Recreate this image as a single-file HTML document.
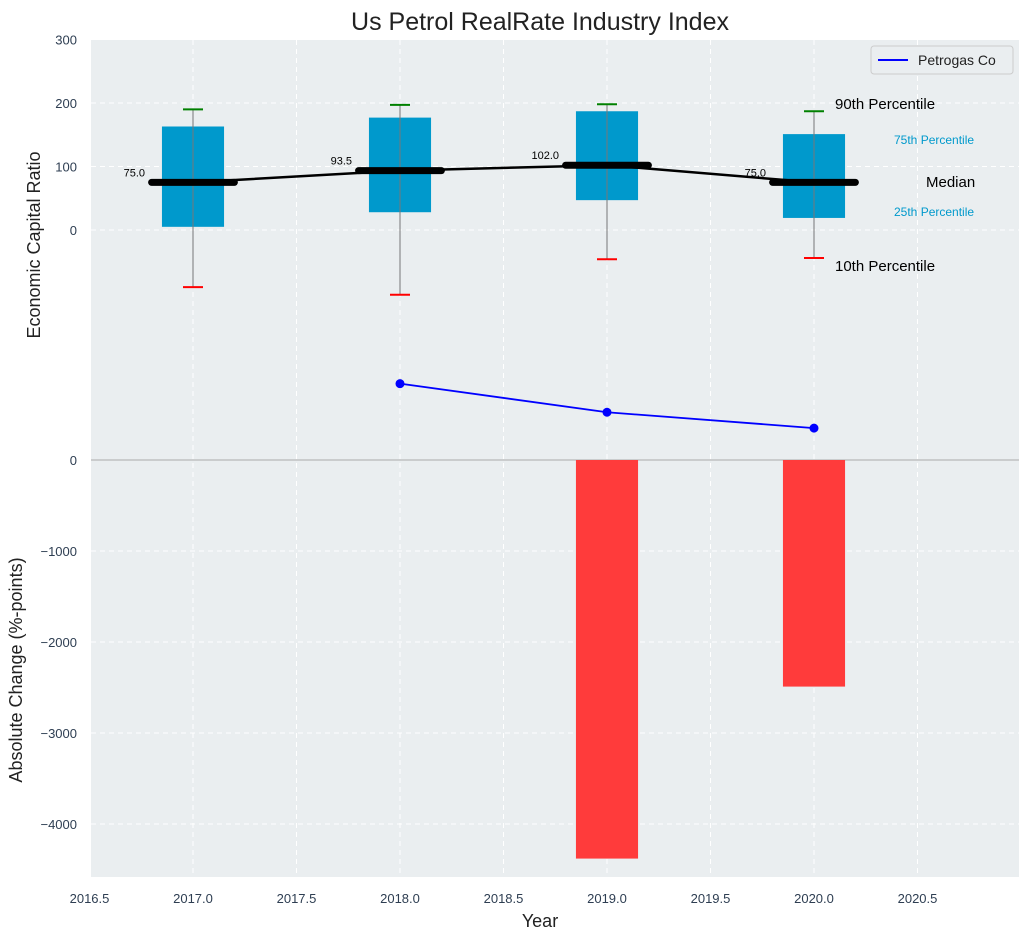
<!DOCTYPE html>
<html><head><meta charset="utf-8"><style>
body{margin:0;background:#fff;}
svg text{font-family:"Liberation Sans",sans-serif;}
</style></head><body>
<svg id="chart" width="1029" height="940" xmlns="http://www.w3.org/2000/svg">
<rect x="91" y="40" width="928" height="837" fill="#eaeef0"/>
<g id="grid"></g>
<g id="marks"></g>
<text x="540" y="30" font-size="25" text-anchor="middle" fill="#222">Us Petrol RealRate Industry Index</text>
<text x="540" y="927" font-size="18" text-anchor="middle" fill="#222">Year</text>
<text transform="translate(40,245) rotate(-90)" font-size="18" text-anchor="middle" fill="#222">Economic Capital Ratio</text>
<text transform="translate(22,670) rotate(-90)" font-size="18" text-anchor="middle" fill="#222">Absolute Change (%-points)</text>
<g>
<rect x="871" y="46" width="142" height="28" rx="3" fill="#eaeef0" stroke="#ccc"/>
<line x1="878" y1="60" x2="908" y2="60" stroke="#0000ff" stroke-width="2"/>
<text x="918" y="65" font-size="14" fill="#222">Petrogas Co</text>
</g>
<text x="835" y="109" font-size="15" fill="#000">90th Percentile</text>
<text x="894" y="144" font-size="12" fill="#0099cc">75th Percentile</text>
<text x="926" y="187" font-size="15" fill="#000">Median</text>
<text x="894" y="216" font-size="12" fill="#0099cc">25th Percentile</text>
<text x="835" y="271" font-size="15" fill="#000">10th Percentile</text>
</svg>
<script>
const years=[2017,2018,2019,2020];
const p10=[-90,-102,-46,-44];
const p25=[5,28,47,19];
const median=[75,93.5,102,75];
const p75=[163,177,187,151];
const p90=[190,197,198,187];
const petroYears=[2018,2019,2020];
const petroVals=[-242,-287,-312];
const changeYears=[2019,2020];
const changeVals=[-4380,-2490];
const xTicks=[2016.5,2017,2017.5,2018,2018.5,2019,2019.5,2020,2020.5];
const yTopTicks=[0,100,200,300];
const yBotTicks=[0,-1000,-2000,-3000,-4000];

const NS="http://www.w3.org/2000/svg";
const X=v=>193+(v-2017)*207;
const YT=v=>230-v*0.635;
const YB=v=>460-v*0.091;
const grid=document.getElementById('grid'), marks=document.getElementById('marks');
function mk(tag,attrs,parent){const e=document.createElementNS(NS,tag);for(const k in attrs)e.setAttribute(k,attrs[k]);parent.appendChild(e);return e;}
const TC='#2e3e52';
xTicks.forEach(t=>{
  const l=mk('line',{x1:X(t),x2:X(t),y1:40,y2:877,stroke:'#fff','stroke-dasharray':'5,4','stroke-width':1},grid);
  
  
  const tx=mk('text',{x:X(t),y:903,'font-size':13,'text-anchor':'middle',fill:TC},grid);
  tx.textContent=t.toFixed(1);
  
  
});
yTopTicks.forEach(t=>{
  const l=mk('line',{x1:91,x2:1019,y1:YT(t),y2:YT(t),stroke:'#fff','stroke-dasharray':'5,4'},grid);
  
  
  const tx=mk('text',{x:77,y:YT(t)+5,'font-size':13,'text-anchor':'end',fill:TC},grid);
  tx.textContent=t;
  
  
});
yBotTicks.forEach(t=>{
  const l=mk('line',{x1:91,x2:1019,y1:YB(t),y2:YB(t),stroke:t===0?'#aaa':'#fff','stroke-dasharray':t===0?'none':'5,4'},grid);
  
  
  const tx=mk('text',{x:77,y:YB(t)+5,'font-size':13,'text-anchor':'end',fill:TC},grid);
  tx.textContent=t===0?'0':'\u2212'+Math.abs(t);
  
  
});
changeYears.forEach((y,i)=>{
  const r=mk('rect',{x:X(y-0.15),y:YB(0),width:X(y+0.15)-X(y-0.15),height:YB(changeVals[i])-YB(0),fill:'#ff3b3b'},marks);
  
  
});
years.forEach((y,i)=>{
  const b=mk('rect',{x:X(y-0.15),y:YT(p75[i]),width:X(y+0.15)-X(y-0.15),height:YT(p25[i])-YT(p75[i]),fill:'#0099cc'},marks);
  
  
  const w=mk('line',{x1:X(y),x2:X(y),y1:YT(p90[i]),y2:YT(p10[i]),stroke:'#777','stroke-width':1},marks);
  
  
  const c1=mk('line',{x1:X(y)-10,x2:X(y)+10,y1:YT(p90[i]),y2:YT(p90[i]),stroke:'green','stroke-width':2},marks);
  
  
  const c2=mk('line',{x1:X(y)-10,x2:X(y)+10,y1:YT(p10[i]),y2:YT(p10[i]),stroke:'red','stroke-width':2},marks);
  
  
});
const mp=mk('polyline',{points:years.map((y,i)=>X(y)+','+YT(median[i])).join(' '),fill:'none',stroke:'#000','stroke-width':2.5},marks);


years.forEach((y,i)=>{
  const m=mk('line',{x1:X(y-0.2),x2:X(y+0.2),y1:YT(median[i]),y2:YT(median[i]),stroke:'#000','stroke-width':7,'stroke-linecap':'round'},marks);
  
  
  const t=mk('text',{x:X(y)-48,y:YT(median[i])-6,'font-size':11,'text-anchor':'end',fill:'#000'},marks);
  t.textContent=median[i].toFixed(1);
  
  
});
const pl=mk('polyline',{points:petroYears.map((y,i)=>X(y)+','+YT(petroVals[i])).join(' '),fill:'none',stroke:'#0000ff','stroke-width':1.8},marks);


petroYears.forEach((y,i)=>{
  const c=mk('circle',{cx:X(y),cy:YT(petroVals[i]),r:4.5,fill:'#0000ff'},marks);
  
  
});
</script>
</body></html>
